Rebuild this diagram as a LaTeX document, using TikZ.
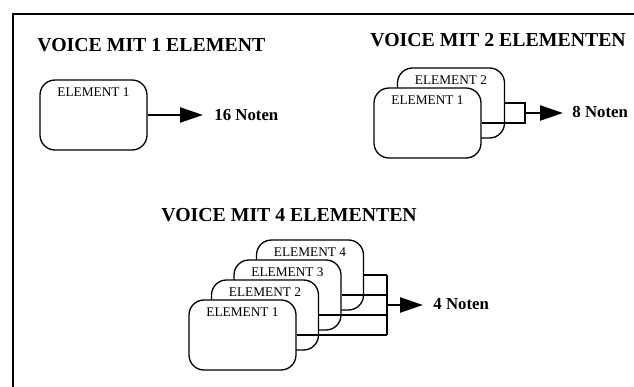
\documentclass[tikz,border=0pt]{standalone}
\usepackage{fontspec}
\setmainfont{Liberation Serif}
\usetikzlibrary{arrows.meta}

\begin{document}
\begin{tikzpicture}[x=1pt,y=-1pt,thick,>={Triangle[length=23pt,width=15pt]},
  elem/.style={draw,fill=white,rounded corners=15pt,minimum width=107pt,minimum height=70pt,line width=1.3pt},
  elemname/.style={font=\fontsize{13.3}{15}\selectfont,inner sep=1pt},
  title/.style={font=\bfseries\fontsize{19.8}{22}\selectfont,anchor=west,inner sep=0pt},
  result/.style={font=\bfseries\fontsize{16.8}{19}\selectfont,anchor=west,inner sep=0pt},
  wire/.style={line width=2.4pt}]

\useasboundingbox (0,0) rectangle (634,387);

% frame (only top and left edge)
\coordinate (ftl) at (13,14);
\draw[line width=1.4pt] (634,14) -- (ftl) -- (13,387);

% ---- Voice with 1 element ----
\node[title] (t1) at (37,45) {VOICE MIT 1 ELEMENT};
\node[elem] (a1) at (93.5,115) {};
\node[elemname] (a1n) at ([yshift=-13pt]a1.north) {ELEMENT 1};
\coordinate (a1tip) at (203,115);
\draw[wire,->] (a1) -- (a1tip);
\node[result] (a1res) at (214,115) {16 Noten};

% ---- Voice with 2 elements ----
\node[title] (t2) at (370,40) {VOICE MIT 2 ELEMENTEN};
\node[elem] (b2) at (451,103) {};
\node[elemname] (b2n) at ([yshift=-13pt]b2.north) {ELEMENT 2};
\node[elem] (b1) at (427.5,123) {};
\node[elemname] (b1n) at ([yshift=-13pt]b1.north) {ELEMENT 1};

\coordinate (bj) at (525,113);
\coordinate (btip) at (563,113);
\draw[wire] (b2.east) -- (b2.east -| bj) -- (b1.east -| bj) -- (b1.east);
\draw[wire,->] (bj) -- (btip);
\node[result] (b1res) at (572,112) {8 Noten};

% ---- Voice with 4 elements ----
\node[title] (t3) at (161,215) {VOICE MIT 4 ELEMENTEN};
% boxes from back to front
\foreach \i/\x/\y in {4/310/275,3/287.5/295,2/265/315,1/242.5/335}{
  \node[elem] (c\i) at (\x,\y) {};
  \node[elemname] (c\i n) at ([yshift=-13pt]c\i.north) {ELEMENT \i};
}

\coordinate (cj) at (387,305);
\coordinate (ctip) at (423,305);
\foreach \i in {1,...,4}
  \draw[wire] (c\i.east) -- (c\i.east -| cj);
\draw[wire] (c4.east -| cj) -- (c1.east -| cj);
\draw[wire,->] (cj) -- (ctip);
\node[result] (c1res) at (433,304) {4 Noten};

\end{tikzpicture}
\end{document}
